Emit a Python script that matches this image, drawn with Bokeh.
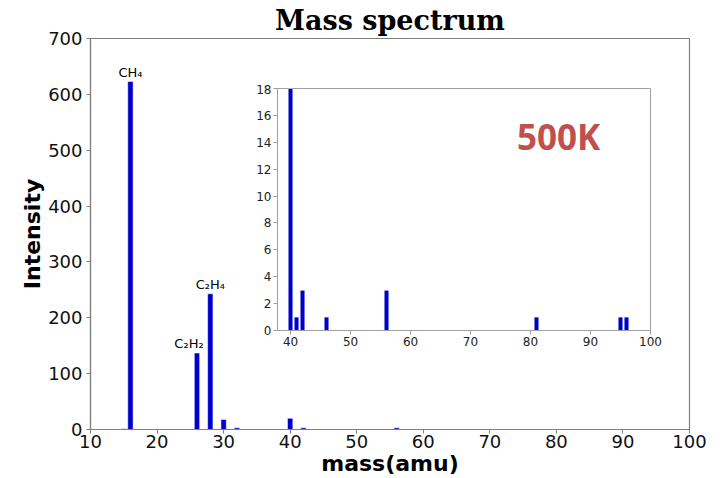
from bokeh.plotting import figure
from bokeh.models import Range1d, FixedTicker, ColumnDataSource, Label
from bokeh.core.properties import value
from bokeh.embed import file_html
from bokeh.resources import INLINE

# ---- data ----
mass = [15, 16, 26, 28, 30, 32, 40, 41, 42, 46, 56, 81, 95, 96]
intensity = [1.5, 623, 137, 243, 18, 3, 20, 1, 3, 1, 3, 1, 1, 1]

label_mass = [16, 26, 28]
label_value = [623, 137, 243]
label_text = ["CH\u2084", "C\u2082H\u2082", "C\u2082H\u2084"]

x_ticks = [10, 20, 30, 40, 50, 60, 70, 80, 90, 100]
y_ticks = [0, 100, 200, 300, 400, 500, 600, 700]

inset_x_ticks = [40, 50, 60, 70, 80, 90, 100]
inset_y_ticks = [0, 2, 4, 6, 8, 10, 12, 14, 16, 18]

title_text = "Mass spectrum"
x_label = "mass(amu)"
y_label = "Intensity"
temp_text = "500K"

BAR = "#0000CD"
FRAME = "#808080"

# ---- main figure ----
p = figure(width=720, height=478, x_range=Range1d(10, 100), y_range=Range1d(0, 700),
           output_backend="svg", toolbar_location=None,
           min_border_left=90, min_border_right=31, min_border_top=0, min_border_bottom=49)
p.title.text = title_text
p.title.align = "center"
p.title.text_font = "DejaVu Serif"
p.title.text_font_style = "bold"
p.title.text_font_size = "27px"
p.title.text_color = "black"
p.title.standoff = 5

p.grid.visible = False
p.outline_line_color = FRAME
p.outline_line_width = 1.2
p.background_fill_color = "white"
p.border_fill_color = "white"

src = ColumnDataSource(dict(x=mass, top=intensity))
p.vbar(x="x", top="top", width=0.8, source=src, fill_color=BAR, line_color="white", line_width=0.5)

lsrc = ColumnDataSource(dict(x=label_mass, y=label_value, t=label_text,
                             dx=[0, -8, 0]))
p.text(x="x", y="y", text="t", x_offset="dx", y_offset=-2, source=lsrc,
       text_align="center", text_baseline="bottom", text_font_size="13px",
       text_font=value("DejaVu Sans"), text_color="black")

p.xaxis.ticker = FixedTicker(ticks=x_ticks)
p.yaxis.ticker = FixedTicker(ticks=y_ticks)
for ax in (p.xaxis[0], p.yaxis[0]):
    ax.axis_line_color = FRAME
    ax.axis_line_width = 1.2
    ax.major_tick_line_color = FRAME
    ax.major_tick_out = 4
    ax.major_tick_in = 0
    ax.minor_tick_line_color = None
    ax.major_label_text_font = "DejaVu Sans"
    ax.major_label_text_font_size = "18px"
    ax.major_label_text_color = "#111111"
    ax.axis_label_text_font = "DejaVu Sans"
    ax.axis_label_text_font_style = "bold"
    ax.axis_label_text_font_size = "22px"
    ax.axis_label_text_color = "black"
p.xaxis.axis_label = x_label
p.yaxis.axis_label = y_label
p.xaxis.major_label_standoff = 1
p.xaxis.axis_label_standoff = 0
p.yaxis.major_label_standoff = 4
p.yaxis.axis_label_standoff = 0

# ---- inset figure ----
q = figure(frame_width=373, frame_height=242, x_range=Range1d(37.83, 100), y_range=Range1d(0, 18),
           output_backend="svg", toolbar_location=None,
           min_border_left=30, min_border_right=14, min_border_top=4, min_border_bottom=20)
q.grid.visible = False
q.outline_line_color = "#a0a0a0"
q.background_fill_color = "white"
q.border_fill_color = None
q.vbar(x="x", top="top", width=0.8, source=src, fill_color=BAR, line_color="white", line_width=0.7)
q.add_layout(Label(x=84.7, y=14.4, text=temp_text, text_align="center", text_baseline="middle",
                   text_font="Open Sans", text_font_style="bold", text_font_size="35px",
                   text_color="#C0504D"))
q.xaxis.ticker = FixedTicker(ticks=inset_x_ticks)
q.yaxis.ticker = FixedTicker(ticks=inset_y_ticks)
for ax in (q.xaxis[0], q.yaxis[0]):
    ax.axis_line_color = "#a0a0a0"
    ax.major_tick_line_color = "#a0a0a0"
    ax.major_tick_out = 4
    ax.major_tick_in = 0
    ax.minor_tick_line_color = None
    ax.major_label_text_font = "DejaVu Sans"
    ax.major_label_text_font_size = "12px"
    ax.major_label_text_color = "#222222"
q.xaxis.major_label_standoff = 2
q.yaxis.major_label_standoff = 2
q.styles = {"position": "absolute", "left": "247px", "top": "84px"}

open("out.html", "w").write(file_html([p, q], INLINE))
